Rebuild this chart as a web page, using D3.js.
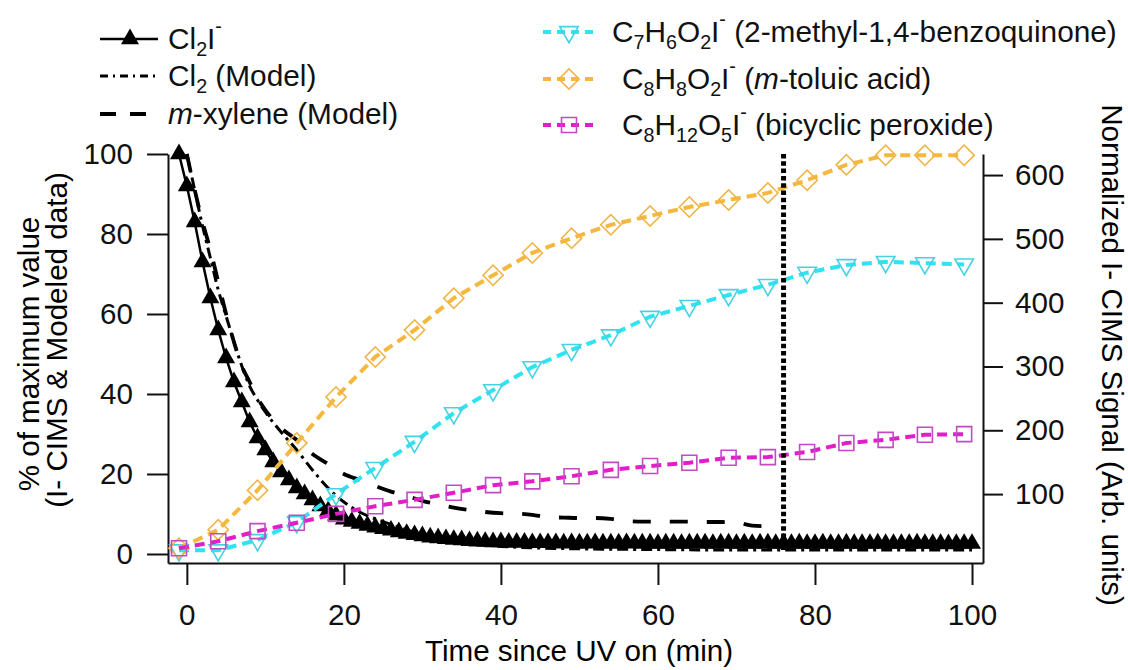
<!DOCTYPE html>
<html>
<head>
<meta charset="utf-8">
<script src="https://cdn.jsdelivr.net/npm/d3@7"></script>
<style>
  body { margin: 0; background: #fff; }
  svg { display: block; font-family: "Liberation Sans", Arial, sans-serif; }
</style>
</head>
<body>
<svg id="chart" width="1128" height="670"></svg>
<script>
// Cl2I- signal, % of max, one point per minute
const cl2iTime = [
  -1, 0, 1, 2, 3, 4, 5, 6, 7, 8, 9, 10,
  11, 12, 13, 14, 15, 16, 17, 18, 19, 20,
  21, 22, 23, 24, 25, 26, 27, 28, 29, 30,
  31, 32, 33, 34, 35, 36, 37, 38, 39, 40,
  41, 42, 43, 44, 45, 46, 47, 48, 49, 50,
  51, 52, 53, 54, 55, 56, 57, 58, 59, 60,
  61, 62, 63, 64, 65, 66, 67, 68, 69, 70,
  71, 72, 73, 74, 75, 76, 77, 78, 79, 80,
  81, 82, 83, 84, 85, 86, 87, 88, 89, 90,
  91, 92, 93, 94, 95, 96, 97, 98, 99, 100
];
const cl2iValues = [
  100, 92, 83, 73, 64, 56, 49, 43, 38, 33, 29, 26,
  23, 20.5, 18.5, 16.5, 15, 13.5, 12, 10.8, 9.7, 8.7,
  8.1, 7.6, 7.1, 6.7, 6.3, 5.9, 5.5, 5.1, 4.8, 4.5,
  4.2, 4.0, 3.8, 3.6, 3.5, 3.3, 3.2, 3.1, 3.0, 3.0,
  2.9, 2.9, 2.9, 2.8, 2.8, 2.8, 2.8, 2.7, 2.8, 2.7,
  2.7, 2.8, 2.7, 2.7, 2.7, 2.8, 2.7, 2.7, 2.7, 2.6,
  2.7, 2.7, 2.6, 2.7, 2.7, 2.7, 2.6, 2.7, 2.7, 2.6,
  2.7, 2.6, 2.7, 2.7, 2.6, 2.7, 2.6, 2.7, 2.6, 2.6,
  2.7, 2.6, 2.6, 2.7, 2.6, 2.6, 2.6, 2.7, 2.6, 2.6,
  2.6, 2.6, 2.7, 2.6, 2.6, 2.6, 2.5, 2.6, 2.6, 2.6
];

// model curves, % of max
const cl2ModelTime = [0, 1, 2, 3, 4, 5, 6, 7, 8, 9, 10, 12, 14, 16, 18, 20, 22, 24, 26, 28, 30, 32, 34, 36, 38, 40, 45, 50, 60, 70, 80, 90, 100];
const cl2ModelValues = [100, 91, 82, 74, 66, 59.5, 53, 47, 42, 38.5, 35.5, 30.5, 26, 21, 16.5, 13, 10.5, 8.8, 7.4, 6.0, 4.9, 4.0, 3.3, 2.7, 2.2, 1.9, 1.5, 1.3, 1.1, 1.0, 1.0, 1.0, 1.0];
const xyleneTime = [0, 1, 2, 3, 4, 5, 6, 7, 8, 9, 10, 12, 14, 16, 18, 20, 22, 24, 26, 28, 30, 32, 34, 36, 38, 40, 42, 44, 46, 48, 50, 52, 54, 56, 58, 60, 62, 64, 66, 68, 70, 72, 74, 75.5];
const xyleneValues = [100, 91, 83, 76, 68, 60, 53, 47, 43, 39, 36, 31.5, 28.5, 25, 22.5, 20, 18.5, 17, 15.6, 14.5, 13.3, 12.4, 11.6, 11, 10.5, 10.2, 10.1, 9.8, 9.2, 9.1, 9.0, 9.0, 8.8, 8.3, 8.1, 8.1, 8.1, 8.1, 8.0, 8.0, 7.9, 7.1, 6.9, 6.8];

// products, normalized I- CIMS signal (right axis), every 5 min
const productTime = [-1, 4, 9, 14, 19, 24, 29, 34, 39, 44, 49, 54, 59, 64, 69, 74, 79, 84, 89, 94, 99];
const benzoquinone = [12, 12, 28, 56, 100, 141, 182, 227, 263, 299, 326, 349, 378, 395, 412, 428, 447, 459, 464, 462, 460];
const toluicAcid = [15, 44, 106, 180, 252, 315, 357, 407, 443, 478, 501, 522, 536, 550, 561, 572, 592, 616, 631, 631, 631];
const bicyclicPeroxide = [15, 26, 42, 55, 69, 81, 91, 102, 114, 120, 128, 138, 144, 149, 157, 158, 166, 180, 185, 193, 194];

const uvOffTime = 76;

const xTicks = [0, 20, 40, 60, 80, 100];
const leftTicks = [0, 20, 40, 60, 80, 100];
const rightTicks = [100, 200, 300, 400, 500, 600];

const fontSize = 29.6;
const legLeftSize = 29.8;
const legRightSize = 29.8;
const svg = d3.select('#chart');

const x = d3.scaleLinear().domain([-2.4, 101.4]).range([168, 983]);
const yL = d3.scaleLinear().domain([-2.25, 100]).range([563, 154]);
const yR = d3.scaleLinear().domain([-8, 633]).range([563, 154]);

// axes
function styleAxis(g) {
  g.selectAll('path, line').attr('stroke', '#111').attr('stroke-width', 2);
  g.selectAll('text').attr('font-size', fontSize).attr('fill', '#111')
    .attr('font-family', '"Liberation Sans", Arial, sans-serif');
}
svg.append('g').attr('transform', 'translate(0,563)')
  .call(d3.axisBottom(x).tickValues(xTicks).tickSize(22).tickSizeOuter(0).tickPadding(19))
  .call(styleAxis);
svg.append('g').attr('transform', 'translate(168,0)')
  .call(d3.axisLeft(yL).tickValues(leftTicks).tickSize(21).tickSizeOuter(0).tickPadding(14))
  .call(styleAxis);
svg.append('g').attr('transform', 'translate(983,0)')
  .call(d3.axisRight(yR).tickValues(rightTicks).tickSize(20).tickSizeOuter(0).tickPadding(12))
  .call(styleAxis);

// axis titles
svg.append('text').attr('x', 579).attr('y', 661).attr('text-anchor', 'middle')
  .attr('font-size', fontSize).text('Time since UV on (min)');
svg.append('text').attr('transform', 'translate(39,354) rotate(-90)').attr('text-anchor', 'middle')
  .attr('font-size', fontSize).text('% of maximum value');
svg.append('text').attr('transform', 'translate(67,340) rotate(-90)').attr('text-anchor', 'middle')
  .attr('font-size', fontSize).text('(I- CIMS & Modeled data)');
svg.append('text').attr('transform', 'translate(1102,355) rotate(90)').attr('text-anchor', 'middle')
  .attr('font-size', fontSize).text('Normalized I- CIMS Signal (Arb. units)');

const plot = svg.append('g');

// model curves
const cl2Model = cl2ModelTime.map((t, i) => ({ t, v: cl2ModelValues[i] }));
const xylene = xyleneTime.map((t, i) => ({ t, v: xyleneValues[i] }));
const smoothLine = d3.line().x(d => x(d.t)).y(d => yL(d.v)).curve(d3.curveMonotoneX);

plot.append('path').datum(cl2Model).attr('d', smoothLine)
  .attr('fill', 'none').attr('stroke', '#000').attr('stroke-width', 3)
  .attr('stroke-dasharray', '11,5,3,5');
plot.append('path').datum(xylene).attr('d', smoothLine)
  .attr('fill', 'none').attr('stroke', '#000').attr('stroke-width', 3.8)
  .attr('stroke-dasharray', '18,19');

// Cl2I- measured
const cl2i = cl2iTime.map((t, i) => ({ t, v: cl2iValues[i] }));
plot.append('path').datum(cl2i)
  .attr('d', d3.line().x(d => x(d.t)).y(d => yL(d.v)))
  .attr('fill', 'none').attr('stroke', '#000').attr('stroke-width', 2.5);
const triUp = d3.symbol().type(d3.symbolTriangle).size(140);
plot.append('g').selectAll('path').data(cl2i).enter().append('path')
  .attr('d', triUp)
  .attr('transform', d => `translate(${x(d.t)},${yL(d.v)})`)
  .attr('fill', '#000');

// products on right axis
const products = [
  { values: benzoquinone, line: '#2fe3f0', mark: '#45d2e3', shape: 'down' },
  { values: toluicAcid, line: '#f5b83f', mark: '#f0b548', shape: 'diamond' },
  { values: bicyclicPeroxide, line: '#e31ec9', mark: '#c24bc4', shape: 'square' }
];

function markerPath(shape) {
  if (shape === 'down') return d3.symbol().type(d3.symbolTriangle).size(150)();
  if (shape === 'diamond') return d3.symbol().type(d3.symbolSquare).size(205)();
  return d3.symbol().type(d3.symbolSquare).size(225)();
}
function markerRotate(shape) {
  return shape === 'down' ? 180 : shape === 'diamond' ? 45 : 0;
}

products.forEach(p => {
  const pts = productTime.map((t, i) => ({ t, v: p.values[i] }));
  plot.append('path').datum(pts)
    .attr('d', d3.line().x(d => x(d.t)).y(d => yR(d.v)))
    .attr('fill', 'none').attr('stroke', p.line).attr('stroke-width', 4)
    .attr('stroke-dasharray', '10,6');
  plot.append('g').selectAll('path').data(pts).enter().append('path')
    .attr('d', markerPath(p.shape))
    .attr('transform', d => `translate(${x(d.t)},${yR(d.v)}) rotate(${markerRotate(p.shape)})`)
    .attr('fill', 'none').attr('stroke', p.mark).attr('stroke-width', 1.6);
});

// UV off marker
plot.append('line')
  .attr('x1', x(uvOffTime)).attr('x2', x(uvOffTime))
  .attr('y1', yL(100)).attr('y2', yL(1))
  .attr('stroke', '#000').attr('stroke-width', 5).attr('stroke-dasharray', '4.5,2.8');

// rich text with sub/superscripts
function addRich(g, xPos, yPos, parts, size) {
  const t = g.append('text').attr('x', xPos).attr('y', yPos).attr('font-size', size).attr('fill', '#111');
  let shift = 0;
  parts.forEach(([s, m]) => {
    const target = m === 'sub' ? size * 0.22 : m === 'sup' ? -size * 0.55 : 0;
    const sp = t.append('tspan').attr('dy', target - shift).text(s);
    shift = target;
    if (m === 'sub' || m === 'sup') sp.attr('font-size', size * 0.66);
    if (m === 'i') sp.attr('font-style', 'italic');
  });
  return t;
}

// left legend
const legL = svg.append('g');
const legLRows = [
  { y: 39, parts: [['Cl'], ['2', 'sub'], ['I'], ['-', 'sup']], dash: null, width: 2.5, marker: true },
  { y: 76, parts: [['Cl'], ['2', 'sub'], [' (Model)']], dash: '8,5,2,5', width: 3, marker: false },
  { y: 114, parts: [['m', 'i'], ['-xylene (Model)']], dash: '16,14', width: 4, marker: false }
];
legLRows.forEach(r => {
  legL.append('line').attr('x1', 100).attr('x2', 158).attr('y1', r.y).attr('y2', r.y)
    .attr('stroke', '#000').attr('stroke-width', r.width)
    .attr('stroke-dasharray', r.dash);
  if (r.marker) {
    legL.append('path').attr('d', triUp).attr('transform', `translate(130,${r.y})`).attr('fill', '#000');
  }
  addRich(legL, 168, r.y + 10, r.parts, legLeftSize);
});

// right legend
const legR = svg.append('g');
const legRRows = [
  { y: 32, tx: 612, p: products[0], parts: [['C'], ['7', 'sub'], ['H'], ['6', 'sub'], ['O'], ['2', 'sub'], ['I'], ['-', 'sup'], [' (2-methyl-1,4-benzoquinone)']] },
  { y: 79, tx: 622, p: products[1], parts: [['C'], ['8', 'sub'], ['H'], ['8', 'sub'], ['O'], ['2', 'sub'], ['I'], ['-', 'sup'], [' ('], ['m', 'i'], ['-toluic acid)']] },
  { y: 125, tx: 622, p: products[2], parts: [['C'], ['8', 'sub'], ['H'], ['12', 'sub'], ['O'], ['5', 'sub'], ['I'], ['-', 'sup'], [' (bicyclic peroxide)']] }
];
legRRows.forEach(r => {
  legR.append('line').attr('x1', 543).attr('x2', 595).attr('y1', r.y).attr('y2', r.y)
    .attr('stroke', r.p.line).attr('stroke-width', 4).attr('stroke-dasharray', '8,6');
  legR.append('path').attr('d', markerPath(r.p.shape))
    .attr('transform', `translate(569,${r.y}) rotate(${markerRotate(r.p.shape)})`)
    .attr('fill', 'none').attr('stroke', r.p.mark).attr('stroke-width', 1.6);
  addRich(legR, r.tx, r.y + 10, r.parts, legRightSize);
});
</script>
</body>
</html>
